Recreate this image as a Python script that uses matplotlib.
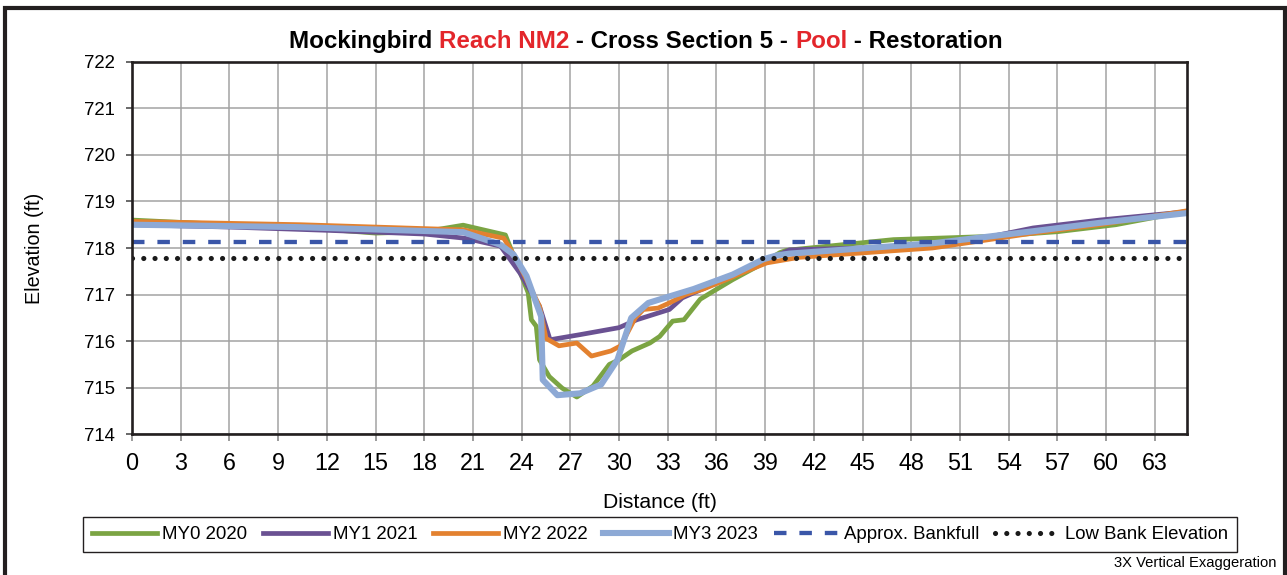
import matplotlib
matplotlib.use("Agg")
import matplotlib.pyplot as plt
from matplotlib.patches import Rectangle

plt.rcParams['font.family'] = ['Liberation Sans', 'DejaVu Sans']

# survey data (distance ft, elevation ft)
my0_x = [0, 3, 6, 9, 12, 15, 18, 20.4, 23.0, 24.4, 24.6, 24.9, 25.1, 25.7, 26.5, 27.4,
         28.4, 29.4, 30.0, 30.8, 31.9, 32.5, 33.3, 34.0, 35.0, 35.8, 37.0, 38.7, 39.9,
         40.3, 46.9, 53.0, 57.0, 60.6, 65.0]
my0_y = [718.6, 718.55, 718.5, 718.45, 718.4, 718.32, 718.35, 718.49, 718.28, 717.04,
         716.46, 716.32, 715.6, 715.24, 714.99, 714.8, 715.04, 715.5, 715.6, 715.79,
         715.96, 716.1, 716.43, 716.46, 716.9, 717.07, 717.32, 717.64, 717.9, 717.95,
         718.18, 718.25, 718.35, 718.5, 718.79]

my1_x = [0, 6, 12, 18, 20.5, 22.7, 23.9, 25.1, 25.75, 27.6, 30.0, 31.1, 33.1, 33.9,
         36.0, 39.0, 40.5, 49.3, 51.4, 55.5, 59.6, 65.0]
my1_y = [718.5, 718.45, 718.38, 718.3, 718.21, 718.04, 717.46, 716.75, 716.03, 716.14,
         716.29, 716.46, 716.68, 716.93, 717.25, 717.72, 717.96, 718.04, 718.14, 718.43,
         718.6, 718.78]

my2_x = [0, 10.4, 20.4, 22.9, 23.7, 25.1, 25.5, 26.3, 27.4, 28.3, 29.5, 30.1, 31.0,
         31.5, 32.4, 33.1, 34.1, 35.2, 36.6, 37.8, 39.1, 41.1, 49.3, 55.5, 59.6, 65.0]
my2_y = [718.57, 718.5, 718.39, 718.21, 717.75, 716.75, 716.06, 715.9, 715.96, 715.68,
         715.79, 715.9, 716.5, 716.68, 716.71, 716.82, 717.0, 717.12, 717.32, 717.5,
         717.68, 717.8, 718.0, 718.32, 718.5, 718.8]

my3_x = [0, 10, 20.4, 22.7, 23.5, 24.3, 24.9, 25.2, 25.3, 26.2, 27.6, 28.9, 29.9, 30.75,
         31.8, 33.1, 34.6, 37.0, 38.9, 39.7, 40.5, 49.3, 55.5, 59.6, 65.0]
my3_y = [718.5, 718.45, 718.34, 718.07, 717.86, 717.4, 716.82, 716.53, 715.17, 714.84,
         714.88, 715.07, 715.6, 716.5, 716.82, 716.96, 717.12, 717.43, 717.76, 717.84,
         717.88, 718.1, 718.36, 718.54, 718.75]

bankfull = 718.13
low_bank = 717.79
x_range = [0, 65]

x_ticks = list(range(0, 64, 3))
y_ticks = list(range(714, 723))

W, H = 1287, 575
fig = plt.figure(figsize=(W / 100, H / 100), dpi=100)

# outer chart border
fig.patches.append(Rectangle((5 / W, -0.02), 1280 / W, 1 - 7.5 / H + 0.02,
                             transform=fig.transFigure, fill=False,
                             edgecolor='#231F20', linewidth=3.0))

ax = fig.add_axes([132 / W, 1 - 434.3 / H, (1187.3 - 132) / W, (434.3 - 61.7) / H])

ax.plot(my0_x, my0_y, color='#7BA443', lw=3.4, label='MY0 2020', solid_joinstyle='round')
ax.plot(my1_x, my1_y, color='#6A5192', lw=3.4, label='MY1 2021', solid_joinstyle='round')
ax.plot(my2_x, my2_y, color='#E3812F', lw=3.4, label='MY2 2022', solid_joinstyle='round')
ax.plot(my3_x, my3_y, color='#8DA9D5', lw=4.4, label='MY3 2023', solid_joinstyle='round')
ax.plot(x_range, [bankfull, bankfull], color='#3A56A8', lw=3.1,
        linestyle=(0, (2.9, 3.0)), label='Approx. Bankfull')
ax.plot(x_range, [low_bank, low_bank], color='#1A1A1A', lw=3.7,
        linestyle=(0, (0.01, 2.18)), dash_capstyle='round', label='Low Bank Elevation')

ax.set_xlim(0, 65)
ax.set_ylim(714, 722)
ax.set_xticks(x_ticks)
ax.set_yticks(y_ticks)
ax.grid(True, color='#A3A3A3', linewidth=1.1)
ax.set_axisbelow(True)
for s in ax.spines.values():
    s.set_color('#231F20')
    s.set_linewidth(1.9)
ax.tick_params(axis='x', labelsize=16.8, length=5, width=1.1, color='#808080', pad=7.5)
ax.tick_params(axis='y', labelsize=13.4, length=4, width=1.1, color='#404040', pad=8)

fig.text(35 / W, 1 - 248 / H, 'Elevation (ft)', rotation=90, fontsize=14.2,
         ha='center', va='center')
fig.text(660 / W, 1 - 503 / H, 'Distance (ft)', fontsize=15.2, ha='center', va='center')
fig.text(1277 / W, 1 - 563 / H, '3X Vertical Exaggeration', fontsize=10.6,
         ha='right', va='center')

fig.legend(loc='center', bbox_to_anchor=(83 / W, 1 - 552 / H, 1154 / W, 35 / H),
           mode='expand', ncol=6, fontsize=13.4, handlelength=3.5, handletextpad=0.25,
           frameon=True, fancybox=False, edgecolor='#231F20', framealpha=1,
           borderpad=0.5, columnspacing=0.8, borderaxespad=0)

# title with red highlights
parts = [('Mockingbird ', 'black'), ('Reach NM2', '#E3262B'),
         (' - Cross Section 5 - ', 'black'), ('Pool', '#E3262B'),
         (' - Restoration', 'black')]
fig.canvas.draw()
renderer = fig.canvas.get_renderer()
texts = [fig.text(0, 1 - 41.5 / H, s, color=c, fontsize=17.4, fontweight='bold',
                  va='center', ha='left') for s, c in parts]
widths = [t.get_window_extent(renderer).width for t in texts]
x = 646 - sum(widths) / 2
for t, w in zip(texts, widths):
    t.set_x(x / W)
    x += w

fig.savefig('out.png', dpi=100)
